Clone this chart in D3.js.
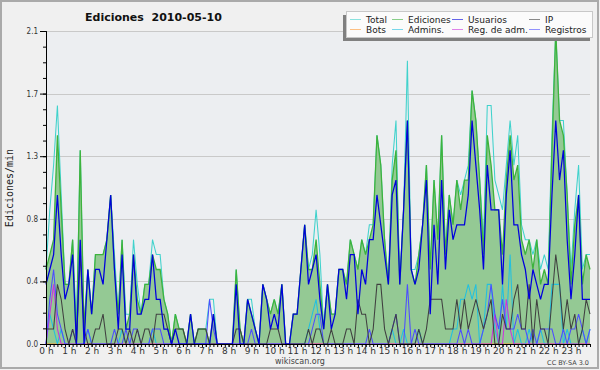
<!DOCTYPE html>
<html>
<head>
<meta charset="utf-8">
<script src="https://cdn.jsdelivr.net/npm/d3@7"></script>
<style>
  body { margin: 0; background: #f0f0f0; }
  svg { display: block; }
  text { font-family: "DejaVu Sans", sans-serif; fill: #333; }
</style>
</head>
<body>
<svg id="chart" width="600" height="370"></svg>
<script>
// =====================
// Data: edits per minute, one value per 10 minutes (144 slots)
// =====================
const hourLabels = d3.range(24).map(h => h + ' h');
const yMax = 2.1;

const total = [
  0.5,0.9,1.2,1.6,1.0,0.4, 0.4,0.7,0.1,1.3,0.1,0.5,
  0.2,0.6,0.6,0.6,0.7,1.0, 0.6,0.2,0.7,0.2,0.2,0.7,
  0.4,0.2,0.4,0.4,0.7,0.6, 0.6,0.3,0.2,0.0,0.2,0.1,
  0.1,0.0,0.2,0.0,0.1,0.1, 0.1,0.3,0.3,0.0,0.0,0.0,
  0.0,0.0,0.5,0.1,0.0,0.3, 0.3,0.1,0.0,0.4,0.3,0.2,
  0.3,0.2,0.4,0.0,0.0,0.2, 0.2,0.5,0.8,0.5,0.6,0.9,
  0.6,0.1,0.4,0.2,0.2,0.5, 0.5,0.4,0.7,0.6,0.5,0.7,
  0.6,0.8,0.8,1.4,1.2,0.7, 0.4,1.2,1.5,0.4,0.9,1.9,
  0.5,0.5,0.6,0.8,1.2,0.5, 1.1,0.7,1.4,0.6,1.0,0.8,
  1.1,1.0,1.1,1.2,1.7,1.5, 1.1,0.7,1.6,1.6,1.1,1.0,
  0.9,1.2,1.5,1.2,1.4,0.8, 0.7,0.7,0.6,0.7,0.5,0.6,
  0.5,1.4,2.1,1.5,1.5,1.0, 0.5,0.9,1.2,0.5,0.6,0.6
];

const ediciones = [
  0.5,0.6,0.7,1.4,0.9,0.4, 0.4,0.7,0.0,1.3,0.1,0.5,
  0.2,0.6,0.6,0.6,0.7,1.0, 0.5,0.2,0.7,0.1,0.2,0.6,
  0.3,0.2,0.4,0.4,0.6,0.5, 0.5,0.3,0.2,0.0,0.2,0.1,
  0.1,0.0,0.2,0.0,0.1,0.1, 0.1,0.0,0.2,0.0,0.0,0.0,
  0.0,0.0,0.5,0.1,0.0,0.3, 0.2,0.1,0.0,0.4,0.3,0.2,
  0.3,0.2,0.4,0.0,0.0,0.2, 0.2,0.5,0.8,0.5,0.5,0.7,
  0.4,0.1,0.4,0.2,0.2,0.5, 0.5,0.4,0.7,0.6,0.5,0.7,
  0.6,0.7,0.8,1.4,1.2,0.7, 0.4,1.1,1.3,0.4,0.9,1.5,
  0.5,0.4,0.6,0.8,1.2,0.5, 1.1,0.7,1.4,0.6,1.0,0.8,
  1.1,0.9,1.1,1.1,1.7,1.5, 1.1,0.6,1.4,1.2,0.9,0.9,
  0.6,1.1,1.4,1.1,1.2,0.7, 0.6,0.7,0.5,0.7,0.4,0.5,
  0.4,1.3,2.1,1.5,1.4,1.0, 0.4,0.8,1.0,0.4,0.6,0.5
];

const usuarios = [
  0.4,0.5,0.6,1.0,0.6,0.3, 0.4,0.6,0.0,0.7,0.0,0.5,
  0.2,0.5,0.5,0.4,0.7,1.0, 0.5,0.1,0.6,0.1,0.1,0.6,
  0.2,0.2,0.3,0.3,0.6,0.3, 0.3,0.1,0.1,0.0,0.1,0.0,
  0.0,0.0,0.2,0.0,0.0,0.0, 0.0,0.0,0.2,0.0,0.0,0.0,
  0.0,0.0,0.4,0.0,0.0,0.3, 0.2,0.1,0.0,0.4,0.3,0.1,
  0.2,0.1,0.4,0.0,0.0,0.2, 0.2,0.5,0.8,0.4,0.5,0.6,
  0.3,0.1,0.4,0.1,0.2,0.5, 0.5,0.3,0.6,0.6,0.2,0.5,
  0.4,0.7,0.7,1.0,0.8,0.6, 0.4,1.0,1.1,0.4,0.9,1.5,
  0.5,0.4,0.5,0.8,1.1,0.2, 0.8,0.4,1.1,0.5,0.9,0.7,
  0.8,0.8,0.8,1.0,1.5,1.2, 0.9,0.5,1.2,0.9,0.9,0.9,
  0.4,1.0,1.3,0.8,0.8,0.6, 0.5,0.3,0.5,0.4,0.3,0.4,
  0.4,1.0,1.5,1.1,1.3,0.7, 0.3,0.6,1.0,0.3,0.3,0.3
];

const ip = [
  0.1,0.1,0.1,0.4,0.3,0.1, 0.0,0.1,0.0,0.6,0.1,0.0,
  0.0,0.1,0.1,0.2,0.0,0.0, 0.0,0.1,0.1,0.0,0.1,0.0,
  0.1,0.0,0.1,0.1,0.0,0.2, 0.2,0.2,0.1,0.0,0.1,0.1,
  0.1,0.0,0.0,0.0,0.1,0.1, 0.1,0.0,0.0,0.0,0.0,0.0,
  0.0,0.0,0.1,0.1,0.0,0.0, 0.0,0.0,0.0,0.0,0.0,0.1,
  0.1,0.1,0.0,0.0,0.0,0.0, 0.0,0.0,0.0,0.1,0.0,0.1,
  0.1,0.0,0.0,0.1,0.0,0.0, 0.0,0.1,0.1,0.0,0.3,0.2,
  0.2,0.0,0.1,0.4,0.4,0.1, 0.0,0.1,0.2,0.0,0.0,0.0,
  0.0,0.0,0.1,0.0,0.1,0.3, 0.3,0.3,0.3,0.1,0.1,0.1,
  0.3,0.1,0.3,0.1,0.2,0.3, 0.2,0.1,0.2,0.3,0.0,0.0,
  0.2,0.1,0.1,0.3,0.4,0.1, 0.1,0.4,0.0,0.3,0.1,0.1,
  0.0,0.3,0.6,0.4,0.1,0.3, 0.1,0.2,0.0,0.1,0.3,0.2
];

const bots = d3.range(144).map(() => 0);   // no bot edits that day

const admins = [
  0.0,0.2,0.1,0.0,0.1,0.0, 0.0,0.0,0.0,0.0,0.0,0.1,
  0.0,0.0,0.0,0.0,0.0,0.0, 0.0,0.0,0.1,0.0,0.0,0.0,
  0.0,0.0,0.0,0.0,0.1,0.0, 0.0,0.0,0.0,0.0,0.0,0.0,
  0.0,0.0,0.0,0.0,0.0,0.0, 0.0,0.0,0.0,0.0,0.0,0.0,
  0.0,0.0,0.0,0.0,0.0,0.0, 0.0,0.0,0.0,0.0,0.0,0.0,
  0.0,0.0,0.0,0.0,0.0,0.0, 0.0,0.0,0.0,0.1,0.2,0.3,
  0.1,0.0,0.0,0.0,0.0,0.0, 0.0,0.0,0.0,0.0,0.0,0.0,
  0.0,0.0,0.0,0.0,0.0,0.0, 0.0,0.1,0.0,0.0,0.1,0.0,
  0.0,0.0,0.1,0.0,0.0,0.0, 0.0,0.0,0.0,0.0,0.0,0.1,
  0.1,0.3,0.3,0.4,0.3,0.4, 0.0,0.1,0.4,0.4,0.1,0.0,
  0.4,0.1,0.6,0.0,0.1,0.0, 0.0,0.1,0.0,0.0,0.1,0.0,
  0.0,0.4,0.4,0.4,0.0,0.1, 0.0,0.0,0.0,0.1,0.0,0.1
];

const regAdm = [
  0.0,0.2,0.4,0.1,0.0,0.0, 0.0,0.0,0.0,0.0,0.0,0.0,
  0.0,0.0,0.0,0.0,0.0,0.0, 0.0,0.0,0.0,0.0,0.0,0.0,
  0.0,0.0,0.0,0.0,0.0,0.0, 0.0,0.0,0.0,0.0,0.0,0.0,
  0.0,0.0,0.0,0.0,0.0,0.0, 0.0,0.0,0.0,0.0,0.0,0.0,
  0.0,0.0,0.0,0.0,0.0,0.0, 0.0,0.0,0.0,0.0,0.0,0.0,
  0.0,0.0,0.0,0.0,0.0,0.0, 0.0,0.0,0.0,0.0,0.0,0.0,
  0.0,0.0,0.0,0.0,0.0,0.0, 0.0,0.0,0.0,0.0,0.0,0.0,
  0.0,0.0,0.0,0.0,0.0,0.0, 0.0,0.0,0.0,0.0,0.0,0.0,
  0.0,0.0,0.0,0.0,0.0,0.0, 0.0,0.0,0.0,0.0,0.0,0.0,
  0.0,0.0,0.0,0.0,0.0,0.0, 0.0,0.0,0.0,0.0,0.2,0.0,
  0.0,0.3,0.1,0.0,0.0,0.0, 0.0,0.0,0.0,0.0,0.0,0.0,
  0.0,0.0,0.0,0.0,0.0,0.0, 0.0,0.0,0.0,0.0,0.0,0.0
];

const registros = [
  0.0,0.3,0.5,0.2,0.1,0.0, 0.0,0.1,0.0,0.0,0.0,0.1,
  0.0,0.0,0.0,0.0,0.0,0.0, 0.1,0.0,0.0,0.1,0.0,0.1,
  0.1,0.0,0.0,0.0,0.1,0.1, 0.1,0.0,0.0,0.0,0.0,0.0,
  0.0,0.0,0.0,0.0,0.0,0.0, 0.0,0.3,0.1,0.0,0.0,0.0,
  0.0,0.0,0.0,0.0,0.0,0.0, 0.1,0.0,0.0,0.0,0.0,0.0,
  0.0,0.0,0.0,0.0,0.0,0.0, 0.0,0.0,0.0,0.0,0.1,0.2,
  0.2,0.0,0.0,0.0,0.0,0.0, 0.0,0.0,0.0,0.0,0.0,0.0,
  0.0,0.1,0.0,0.0,0.0,0.0, 0.0,0.1,0.2,0.0,0.0,0.4,
  0.0,0.1,0.0,0.0,0.0,0.0, 0.0,0.0,0.0,0.0,0.0,0.0,
  0.0,0.1,0.0,0.1,0.0,0.0, 0.0,0.1,0.2,0.4,0.2,0.1,
  0.3,0.1,0.1,0.1,0.2,0.1, 0.1,0.0,0.1,0.0,0.1,0.1,
  0.1,0.1,0.0,0.0,0.1,0.0, 0.1,0.1,0.2,0.1,0.0,0.1
];

// =====================
// Layout
// =====================
const
  plotLeft = 46, plotRight = 590,     // plot area, horizontal
  plotTop = 31, plotBottom = 344,     // plot area, vertical
  plotBg = '#eceef1',
  gridColor = '#c9c9c9';

const series = [
  { name: 'Total',        values: total,     color: '#40d2cc' },
  { name: 'Ediciones',    values: ediciones, color: '#3db33d', fill: '#94c994', width: 1.3 },
  { name: 'Usuarios',     values: usuarios,  color: '#0000dd', width: 1.25 },
  { name: 'IP',           values: ip,        color: '#404040' },
  { name: 'Bots',         values: bots,      color: '#ff9933' },
  { name: 'Admins.',      values: admins,    color: '#22c0e0' },
  { name: 'Reg. de adm.', values: regAdm,    color: '#cc33dd' },
  { name: 'Registros',    values: registros, color: '#4d4dff' }
];
const drawOrder = ['Total', 'Ediciones', 'Bots', 'Admins.', 'Reg. de adm.', 'Registros', 'IP', 'Usuarios'];

const svg = d3.select('#chart');

const x = d3.scaleLinear([0, 143], [plotLeft, plotRight]);
const y = d3.scaleLinear([0, yMax], [plotBottom, plotTop]);

// frame
svg.append('rect')
  .attr('x', 1).attr('y', 1).attr('width', 597).attr('height', 367)
  .attr('fill', '#f0f0f0').attr('stroke', '#aaaaaa').attr('stroke-width', 2);

// plot background
svg.append('rect')
  .attr('x', plotLeft).attr('y', plotTop).attr('width', plotRight - plotLeft).attr('height', plotBottom - plotTop)
  .attr('fill', plotBg);

// grid
const majorY = d3.range(0, 6).map(k => k * yMax / 5);
svg.append('g')
  .selectAll('line')
  .data(majorY.slice(1))
  .enter()
  .append('line')
  .attr('x1', plotLeft).attr('x2', plotRight)
  .attr('y1', d => Math.round(y(d)) + 0.5).attr('y2', d => Math.round(y(d)) + 0.5)
  .attr('stroke', gridColor);

// =====================
// Series
// =====================
const line = d3.line().x((d, i) => x(i)).y(d => y(d));
const area = d3.area().x((d, i) => x(i)).y0(y(0)).y1(d => y(d));

const plot = svg.append('g');
drawOrder.forEach(name => {
  const s = series.find(d => d.name === name);
  if (s.fill) {
    plot.append('path')
      .attr('d', area(s.values))
      .attr('fill', s.fill);
  }
  plot.append('path')
    .attr('d', line(s.values))
    .attr('fill', 'none')
    .attr('stroke', s.color)
    .attr('stroke-width', s.width || 1.05)
    .attr('stroke-linejoin', 'miter');
});

// =====================
// Axes
// =====================
const yMinor = d3.axisLeft(y).tickValues(d3.range(0, 21).map(k => k * yMax / 20)).tickSize(3).tickFormat('');
const yMajor = d3.axisLeft(y).tickValues(majorY).tickSize(6).tickPadding(2).tickFormat(d3.format('.1f'));

svg.append('g').attr('transform', 'translate(' + plotLeft + ',0)').call(yMinor);
svg.append('g').attr('transform', 'translate(' + plotLeft + ',0)').call(yMajor)
  .call(g => g.selectAll('text').style('font-size', '8px').style('font-family', '"DejaVu Sans Condensed","DejaVu Sans",sans-serif'));

const xMinor = d3.axisBottom(x).tickValues(d3.range(0, 144)).tickSize(3).tickFormat('');
const xMajor = d3.axisBottom(x).tickValues(d3.range(0, 144, 6)).tickSize(3).tickPadding(1)
  .tickFormat(d => hourLabels[d / 6]);

svg.append('g').attr('transform', 'translate(0,' + plotBottom + ')').call(xMinor);
svg.append('g').attr('transform', 'translate(0,' + plotBottom + ')').call(xMajor)
  .call(g => g.selectAll('text').style('font-size', '9px'));

svg.selectAll('.domain').attr('stroke', '#000');
svg.selectAll('.tick line').attr('stroke', '#000');
svg.selectAll('.tick text').attr('fill', '#333');

// =====================
// Titles and labels
// =====================
svg.append('text')
  .attr('x', 85).attr('y', 21)
  .style('font-size', '11px').style('font-weight', 'bold').style('fill', '#111')
  .style('white-space', 'pre')
  .text('Ediciones  2010-05-10');

svg.append('text')
  .attr('transform', 'translate(13,188) rotate(-90)')
  .attr('text-anchor', 'middle')
  .style('font-family', '"DejaVu Sans Mono", monospace').style('font-size', '10px').style('fill', '#222')
  .text('Ediciones/min');

svg.append('text')
  .attr('x', 300).attr('y', 364).attr('text-anchor', 'middle')
  .style('font-size', '8px').style('fill', '#444')
  .text('wikiscan.org');

svg.append('text')
  .attr('x', 589).attr('y', 365).attr('text-anchor', 'end')
  .style('font-size', '6.5px').style('fill', '#444')
  .text('CC BY-SA 3.0');

// =====================
// Legend
// =====================
const legend = svg.append('g');
legend.append('rect')
  .attr('x', 343).attr('y', 15).attr('width', 247).attr('height', 26)
  .attr('fill', '#808080');
legend.append('rect')
  .attr('x', 346.5).attr('y', 11.5).attr('width', 246).attr('height', 26)
  .attr('fill', '#fbfbfb').attr('stroke', '#c8c8c8');

const colX = [350, 392, 452, 529];
const rowY = [19, 29];
series.forEach((s, k) => {
  const cx = colX[k % 4], cy = rowY[Math.floor(k / 4)];
  legend.append('line')
    .attr('x1', cx).attr('x2', cx + 11)
    .attr('y1', cy + 0.5).attr('y2', cy + 0.5)
    .attr('stroke', s.color).attr('stroke-opacity', 0.6);
  legend.append('text')
    .attr('x', cx + 16).attr('y', cy + 3.5)
    .style('font-size', '9px').style('fill', '#222')
    .text(s.name);
});
</script>
</body>
</html>
